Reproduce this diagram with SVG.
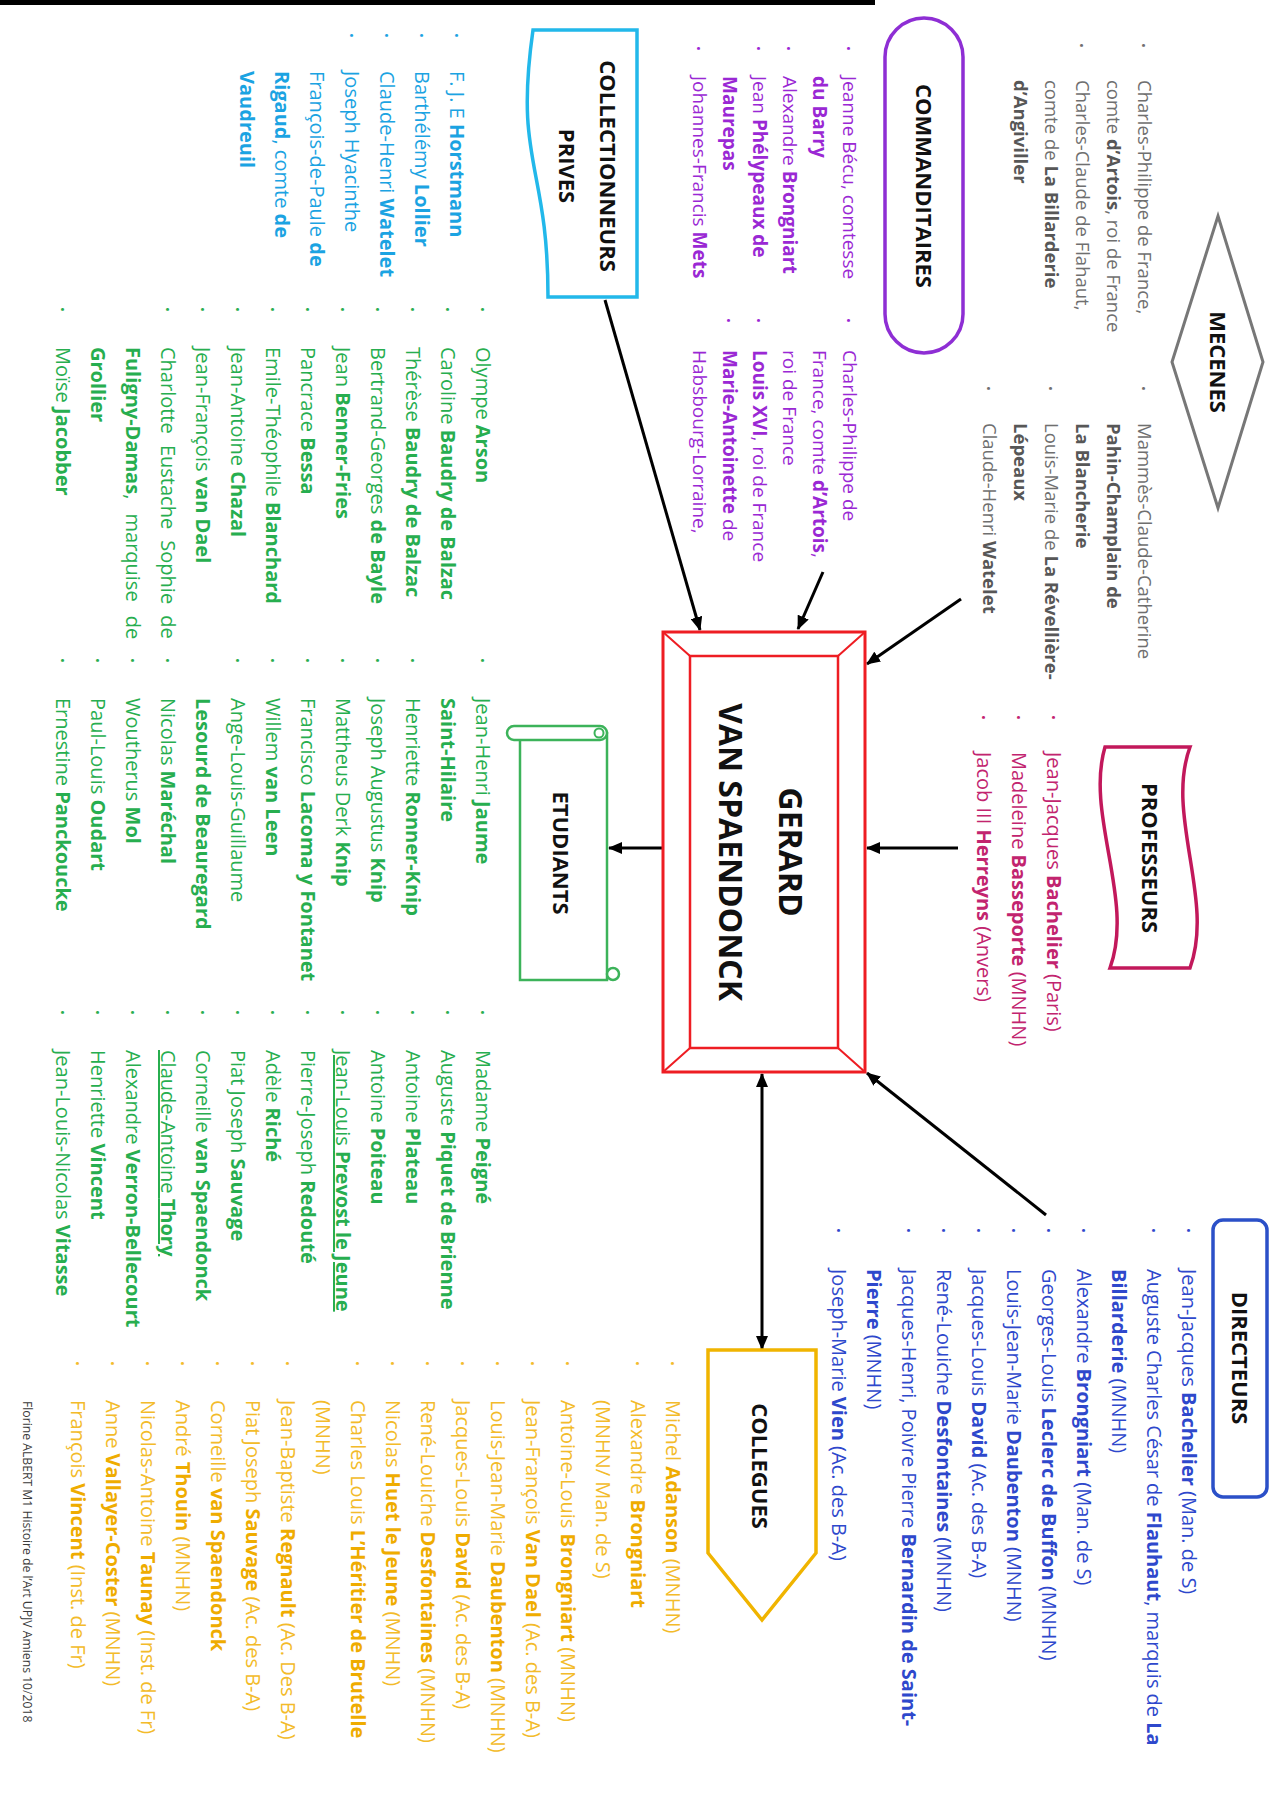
<svg xmlns="http://www.w3.org/2000/svg" width="1282" height="1798" viewBox="0 0 1282 1798">
<defs>
<marker id="ah" markerUnits="userSpaceOnUse" markerWidth="14" markerHeight="12" refX="13" refY="6" orient="auto-start-reverse">
<path d="M0,0 L14,6 L0,12 Z" fill="#000"/>
</marker>
</defs>
<style>
text { font-family: "Open Sans", "Noto Sans", "DejaVu Sans", sans-serif; }
.t { font-weight: 700; fill: #111; text-anchor: middle; font-size: 22px; }
.l { font-size: 20px; }
.b { font-weight: 700; }
.bu { font-size: 13px; }
.mec { fill: #6f6f6f; font-size: 18.5px; }
.mec .b { fill: #575757; }
.com { fill: #9a28d4; font-size: 19px; }
.col { fill: #1ba3e2; }
.pro { fill: #c2246f; }
.etu { fill: #27ae4f; }
.dir { fill: #2e48cc; }
.clg { fill: #f3bb2a; }
.clg .b { fill: #efac00; }
.u { text-decoration: underline; }
.shape { fill: #fff; }
.conn line { stroke: #000; stroke-width: 3; marker-end: url(#ah); }
</style>
<rect width="1282" height="1798" fill="#fff"/>
<rect x="0" y="0" width="875" height="5" fill="#000"/>

<g id="connectors" class="conn">
<line x1="961" y1="599" x2="867" y2="664"/>
<line x1="823" y1="572" x2="798" y2="629"/>
<line x1="605" y1="300" x2="700" y2="630"/>
<line x1="958" y1="848" x2="867" y2="848"/>
<line x1="665" y1="848" x2="609" y2="848"/>
<line x1="1046" y1="1215" x2="867" y2="1073"/>
<line x1="762" y1="1074" x2="762" y2="1349" marker-start="url(#ah)"/>
</g>

<g id="mecenes">
<polygon class="shape" points="1218,216 1263,362 1218,508 1172,362" stroke="#777" stroke-width="3"/>
<text class="t" transform="translate(1210,362) rotate(90)">MECENES</text>
<text class="mec" transform="translate(1137.5,80) rotate(90)">
<tspan class="bu" x="-37" y="-1.5">•</tspan><tspan x="0" y="0">Charles-Philippe de France,</tspan>
<tspan x="0" y="31">comte <tspan class="b">d’Artois</tspan>, roi de France</tspan>
<tspan class="bu" x="-37" y="60.5">•</tspan><tspan x="0" y="62">Charles-Claude de Flahaut,</tspan>
<tspan x="0" y="93">comte de <tspan class="b">La Billarderie</tspan></tspan>
<tspan x="0" y="124" class="b">d’Angiviller</tspan>
</text>
<text class="mec" transform="translate(1137.5,423) rotate(90)">
<tspan class="bu" x="-37" y="-1.5">•</tspan><tspan x="0" y="0">Mammès-Claude-Catherine</tspan>
<tspan x="0" y="31" class="b">Pahin-Champlain de</tspan>
<tspan x="0" y="62" class="b">La Blancherie</tspan>
<tspan class="bu" x="-37" y="91.5">•</tspan><tspan x="0" y="93">Louis-Marie de <tspan class="b">La Révellière-</tspan></tspan>
<tspan x="0" y="124" class="b">Lépeaux</tspan>
<tspan class="bu" x="-37" y="153.5">•</tspan><tspan x="0" y="155">Claude-Henri <tspan class="b">Watelet</tspan></tspan>
</text>
</g>

<g id="commanditaires">
<rect class="shape" x="885" y="18" width="78" height="335" rx="39" stroke="#8e2ed4" stroke-width="3.5"/>
<text class="t" transform="translate(916,186) rotate(90)">COMMANDITAIRES</text>
<text class="com" transform="translate(842.5,76) rotate(90)">
<tspan class="bu" x="-30" y="-1.5">•</tspan><tspan x="0" y="0">Jeanne Bécu, comtesse</tspan>
<tspan x="0" y="30" class="b">du Barry</tspan>
<tspan class="bu" x="-30" y="58.5">•</tspan><tspan x="0" y="60">Alexandre <tspan class="b">Brongniart</tspan></tspan>
<tspan class="bu" x="-30" y="88.5">•</tspan><tspan x="0" y="90">Jean <tspan class="b">Phélypeaux de</tspan></tspan>
<tspan x="0" y="120" class="b">Maurepas</tspan>
<tspan class="bu" x="-30" y="148.5">•</tspan><tspan x="0" y="150">Johannes-Francis <tspan class="b">Mets</tspan></tspan>
</text>
<text class="com" transform="translate(842.5,350) rotate(90)">
<tspan class="bu" x="-32" y="-1.5">•</tspan><tspan x="0" y="0">Charles-Philippe de</tspan>
<tspan x="0" y="30">France, comte <tspan class="b">d’Artois</tspan>,</tspan>
<tspan x="0" y="60">roi de France</tspan>
<tspan class="bu" x="-32" y="88.5">•</tspan><tspan x="0" y="90"><tspan class="b">Louis XVI</tspan>, roi de France</tspan>
<tspan class="bu" x="-32" y="118.5">•</tspan><tspan x="0" y="120"><tspan class="b">Marie-Antoinette</tspan> de</tspan>
<tspan x="0" y="150">Habsbourg-Lorraine,</tspan>
</text>
</g>

<g id="collectionneurs">
<path class="shape" d="M637,30 L637,297 L548,297 C548,163.5 514,163.5 533,30 Z" stroke="#22b8ea" stroke-width="3.5"/>
<text class="t" transform="translate(600,166) rotate(90)">COLLECTIONNEURS</text>
<text class="t" transform="translate(559,166) rotate(90)">PRIVES</text>
<text class="l col" transform="translate(450,71) rotate(90)">
<tspan class="bu" x="-38" y="-2">•</tspan><tspan x="0" y="0">F. J. E <tspan class="b">Horstmann</tspan></tspan>
<tspan class="bu" x="-38" y="33">•</tspan><tspan x="0" y="35">Barthélémy <tspan class="b">Lollier</tspan></tspan>
<tspan class="bu" x="-38" y="68">•</tspan><tspan x="0" y="70">Claude-Henri <tspan class="b">Watelet</tspan></tspan>
<tspan class="bu" x="-38" y="103">•</tspan><tspan x="0" y="105">Joseph Hyacinthe</tspan>
<tspan x="0" y="140">François-de-Paule <tspan class="b">de</tspan></tspan>
<tspan x="0" y="175"><tspan class="b">Rigaud</tspan>, comte <tspan class="b">de</tspan></tspan>
<tspan x="0" y="210" class="b">Vaudreuil</tspan>
</text>
</g>

<g id="professeurs">
<path class="shape" d="M1190,747 C1165,815 1215,900 1190,968 L1110,968 C1135,900 1085,815 1105,747 Z" stroke="#c2185b" stroke-width="3.5"/>
<text class="t" transform="translate(1142,858) rotate(90)">PROFESSEURS</text>
<text class="l pro" transform="translate(1047,752) rotate(90)">
<tspan class="bu" x="-37" y="-2">•</tspan><tspan x="0" y="0">Jean-Jacques <tspan class="b">Bachelier</tspan> (Paris)</tspan>
<tspan class="bu" x="-37" y="33">•</tspan><tspan x="0" y="35">Madeleine <tspan class="b">Basseporte</tspan> (MNHN)</tspan>
<tspan class="bu" x="-37" y="68">•</tspan><tspan x="0" y="70">Jacob III <tspan class="b">Herreyns</tspan> (Anvers)</tspan>
</text>
</g>

<g id="gerard">
<rect class="shape" x="663" y="632" width="202" height="440" stroke="#ee1d23" stroke-width="3"/>
<rect class="shape" x="690" y="656" width="148" height="392" stroke="#ee1d23" stroke-width="2.5"/>
<path d="M663,632 L690,656 M865,632 L838,656 M865,1072 L838,1048 M663,1072 L690,1048" stroke="#ee1d23" stroke-width="2" fill="none"/>
<text class="t" style="font-size:32px" transform="translate(778.5,852) rotate(90)">GERARD</text>
<text class="t" style="font-size:32px" transform="translate(718.5,852) rotate(90)">VAN SPAENDONCK</text>
</g>

<g id="etudiants">
<rect class="shape" x="520" y="733" width="87" height="247" stroke="#3cb35a" stroke-width="2.5"/>
<rect class="shape" x="507" y="726" width="100" height="14" rx="7" stroke="#3cb35a" stroke-width="2.5"/>
<circle cx="599" cy="733" r="4.5" fill="none" stroke="#3cb35a" stroke-width="2"/>
<circle cx="613" cy="974" r="6" class="shape" stroke="#3cb35a" stroke-width="2.5"/>
<text class="t" transform="translate(553,853) rotate(90)">ETUDIANTS</text>
<text class="l etu" transform="translate(476,347) rotate(90)">
<tspan class="bu" x="-40" y="-2">•</tspan><tspan x="0" y="0">Olympe <tspan class="b">Arson</tspan></tspan>
<tspan class="bu" x="-40" y="33">•</tspan><tspan x="0" y="35">Caroline <tspan class="b">Baudry de Balzac</tspan></tspan>
<tspan class="bu" x="-40" y="68">•</tspan><tspan x="0" y="70">Thérèse <tspan class="b">Baudry de Balzac</tspan></tspan>
<tspan class="bu" x="-40" y="103">•</tspan><tspan x="0" y="105">Bertrand-Georges <tspan class="b">de Bayle</tspan></tspan>
<tspan class="bu" x="-40" y="138">•</tspan><tspan x="0" y="140">Jean <tspan class="b">Benner-Fries</tspan></tspan>
<tspan class="bu" x="-40" y="173">•</tspan><tspan x="0" y="175">Pancrace <tspan class="b">Bessa</tspan></tspan>
<tspan class="bu" x="-40" y="208">•</tspan><tspan x="0" y="210">Emile-Théophile <tspan class="b">Blanchard</tspan></tspan>
<tspan class="bu" x="-40" y="243">•</tspan><tspan x="0" y="245">Jean-Antoine <tspan class="b">Chazal</tspan></tspan>
<tspan class="bu" x="-40" y="278">•</tspan><tspan x="0" y="280">Jean-François <tspan class="b">van Dael</tspan></tspan>
<tspan class="bu" x="-40" y="313">•</tspan><tspan x="0" y="315" word-spacing="6">Charlotte Eustache Sophie de</tspan>
<tspan x="0" y="350" word-spacing="9"><tspan class="b">Fuligny-Damas</tspan>, marquise de</tspan>
<tspan x="0" y="385" class="b">Grollier</tspan>
<tspan class="bu" x="-40" y="418">•</tspan><tspan x="0" y="420">Moïse <tspan class="b">Jacobber</tspan></tspan>
</text>
<text class="l etu" transform="translate(476,698) rotate(90)">
<tspan class="bu" x="-40" y="-2">•</tspan><tspan x="0" y="0">Jean-Henri <tspan class="b">Jaume</tspan></tspan>
<tspan x="0" y="35" class="b">Saint-Hilaire</tspan>
<tspan class="bu" x="-40" y="68">•</tspan><tspan x="0" y="70">Henriette <tspan class="b">Ronner-Knip</tspan></tspan>
<tspan class="bu" x="-40" y="103">•</tspan><tspan x="0" y="105">Joseph Augustus <tspan class="b">Knip</tspan></tspan>
<tspan class="bu" x="-40" y="138">•</tspan><tspan x="0" y="140">Mattheus Derk <tspan class="b">Knip</tspan></tspan>
<tspan class="bu" x="-40" y="173">•</tspan><tspan x="0" y="175">Francisco <tspan class="b">Lacoma y Fontanet</tspan></tspan>
<tspan class="bu" x="-40" y="208">•</tspan><tspan x="0" y="210">Willem <tspan class="b">van Leen</tspan></tspan>
<tspan class="bu" x="-40" y="243">•</tspan><tspan x="0" y="245">Ange-Louis-Guillaume</tspan>
<tspan x="0" y="280" class="b">Lesourd de Beauregard</tspan>
<tspan class="bu" x="-40" y="313">•</tspan><tspan x="0" y="315">Nicolas <tspan class="b">Maréchal</tspan></tspan>
<tspan class="bu" x="-40" y="348">•</tspan><tspan x="0" y="350">Woutherus <tspan class="b">Mol</tspan></tspan>
<tspan class="bu" x="-40" y="383">•</tspan><tspan x="0" y="385">Paul-Louis <tspan class="b">Oudart</tspan></tspan>
<tspan class="bu" x="-40" y="418">•</tspan><tspan x="0" y="420">Ernestine <tspan class="b">Panckoucke</tspan></tspan>
</text>
<text class="l etu" transform="translate(476,1050) rotate(90)">
<tspan class="bu" x="-40" y="-2">•</tspan><tspan x="0" y="0">Madame <tspan class="b">Peigné</tspan></tspan>
<tspan class="bu" x="-40" y="33">•</tspan><tspan x="0" y="35">Auguste <tspan class="b">Piquet de Brienne</tspan></tspan>
<tspan class="bu" x="-40" y="68">•</tspan><tspan x="0" y="70">Antoine <tspan class="b">Plateau</tspan></tspan>
<tspan class="bu" x="-40" y="103">•</tspan><tspan x="0" y="105">Antoine <tspan class="b">Poiteau</tspan></tspan>
<tspan class="bu" x="-40" y="138">•</tspan><tspan x="0" y="140" class="u">Jean-Louis <tspan class="b">Prevost le Jeune</tspan></tspan>
<tspan class="bu" x="-40" y="173">•</tspan><tspan x="0" y="175">Pierre-Joseph <tspan class="b">Redouté</tspan></tspan>
<tspan class="bu" x="-40" y="208">•</tspan><tspan x="0" y="210">Adèle <tspan class="b">Riché</tspan></tspan>
<tspan class="bu" x="-40" y="243">•</tspan><tspan x="0" y="245">Piat Joseph <tspan class="b">Sauvage</tspan></tspan>
<tspan class="bu" x="-40" y="278">•</tspan><tspan x="0" y="280">Corneille <tspan class="b">van Spaendonck</tspan></tspan>
<tspan class="bu" x="-40" y="313">•</tspan><tspan x="0" y="315" class="u">Claude-Antoine <tspan class="b">Thory</tspan></tspan>
<tspan class="bu" x="-40" y="348">•</tspan><tspan x="0" y="350">Alexandre <tspan class="b">Verron-Bellecourt</tspan></tspan>
<tspan class="bu" x="-40" y="383">•</tspan><tspan x="0" y="385">Henriette <tspan class="b">Vincent</tspan></tspan>
<tspan class="bu" x="-40" y="418">•</tspan><tspan x="0" y="420">Jean-Louis-Nicolas <tspan class="b">Vitasse</tspan></tspan>
</text>
</g>

<g id="directeurs">
<rect class="shape" x="1213" y="1220" width="54" height="277" rx="10" stroke="#2b50c8" stroke-width="3.5"/>
<text class="t" transform="translate(1232,1358) rotate(90)">DIRECTEURS</text>
<text class="l dir" transform="translate(1182,1269) rotate(90)">
<tspan class="bu" x="-41" y="-2">•</tspan><tspan x="0" y="0">Jean-Jacques <tspan class="b">Bachelier</tspan> (Man. de S)</tspan>
<tspan class="bu" x="-41" y="33">•</tspan><tspan x="0" y="35">Auguste Charles César de <tspan class="b">Flauhaut</tspan>, marquis de <tspan class="b">La</tspan></tspan>
<tspan x="0" y="70"><tspan class="b">Billarderie</tspan> (MNHN)</tspan>
<tspan class="bu" x="-41" y="103">•</tspan><tspan x="0" y="105">Alexandre <tspan class="b">Brongniart</tspan> (Man. de S)</tspan>
<tspan class="bu" x="-41" y="138">•</tspan><tspan x="0" y="140">Georges-Louis <tspan class="b">Leclerc de Buffon</tspan> (MNHN)</tspan>
<tspan class="bu" x="-41" y="173">•</tspan><tspan x="0" y="175">Louis-Jean-Marie <tspan class="b">Daubenton</tspan> (MNHN)</tspan>
<tspan class="bu" x="-41" y="208">•</tspan><tspan x="0" y="210">Jacques-Louis <tspan class="b">David</tspan> (Ac. des B-A)</tspan>
<tspan class="bu" x="-41" y="243">•</tspan><tspan x="0" y="245">René-Louiche <tspan class="b">Desfontaines</tspan> (MNHN)</tspan>
<tspan class="bu" x="-41" y="278">•</tspan><tspan x="0" y="280">Jacques-Henri, Poivre Pierre <tspan class="b">Bernardin de Saint-</tspan></tspan>
<tspan x="0" y="315"><tspan class="b">Pierre</tspan> (MNHN)</tspan>
<tspan class="bu" x="-41" y="348">•</tspan><tspan x="0" y="350">Joseph-Marie <tspan class="b">Vien</tspan> (Ac. des B-A)</tspan>
</text>
</g>

<g id="collegues">
<polygon class="shape" points="708,1350 816,1350 816,1553 762,1620 708,1553" stroke="#f0b400" stroke-width="3.5"/>
<text class="t" transform="translate(752,1466) rotate(90)">COLLEGUES</text>
<text class="l clg" transform="translate(666,1400) rotate(90)">
<tspan class="bu" x="-39" y="-2">•</tspan><tspan x="0" y="0">Michel <tspan class="b">Adanson</tspan> (MNHN)</tspan>
<tspan class="bu" x="-39" y="33">•</tspan><tspan x="0" y="35">Alexandre <tspan class="b">Brongniart</tspan></tspan>
<tspan x="0" y="70">(MNHN/ Man. de S)</tspan>
<tspan class="bu" x="-39" y="103">•</tspan><tspan x="0" y="105">Antoine-Louis <tspan class="b">Brongniart</tspan> (MNHN)</tspan>
<tspan class="bu" x="-39" y="138">•</tspan><tspan x="0" y="140">Jean-François <tspan class="b">Van Dael</tspan> (Ac. des B-A)</tspan>
<tspan class="bu" x="-39" y="173">•</tspan><tspan x="0" y="175">Louis-Jean-Marie <tspan class="b">Daubenton</tspan> (MNHN)</tspan>
<tspan class="bu" x="-39" y="208">•</tspan><tspan x="0" y="210">Jacques-Louis <tspan class="b">David</tspan> (Ac. des B-A)</tspan>
<tspan class="bu" x="-39" y="243">•</tspan><tspan x="0" y="245">René-Louiche <tspan class="b">Desfontaines</tspan> (MNHN)</tspan>
<tspan class="bu" x="-39" y="278">•</tspan><tspan x="0" y="280">Nicolas <tspan class="b">Huet le Jeune</tspan> (MNHN)</tspan>
<tspan class="bu" x="-39" y="313">•</tspan><tspan x="0" y="315">Charles Louis <tspan class="b">L’Héritier de Brutelle</tspan></tspan>
<tspan x="0" y="350">(MNHN)</tspan>
<tspan class="bu" x="-39" y="383">•</tspan><tspan x="0" y="385">Jean-Baptiste <tspan class="b">Regnault</tspan> (Ac. Des B-A)</tspan>
<tspan class="bu" x="-39" y="418">•</tspan><tspan x="0" y="420">Piat Joseph <tspan class="b">Sauvage</tspan> (Ac. des B-A)</tspan>
<tspan class="bu" x="-39" y="453">•</tspan><tspan x="0" y="455">Corneille <tspan class="b">van Spaendonck</tspan></tspan>
<tspan class="bu" x="-39" y="488">•</tspan><tspan x="0" y="490">André <tspan class="b">Thouin</tspan> (MNHN)</tspan>
<tspan class="bu" x="-39" y="523">•</tspan><tspan x="0" y="525">Nicolas-Antoine <tspan class="b">Taunay</tspan> (Inst. de Fr)</tspan>
<tspan class="bu" x="-39" y="558">•</tspan><tspan x="0" y="560">Anne <tspan class="b">Vallayer-Coster</tspan> (MNHN)</tspan>
<tspan class="bu" x="-39" y="593">•</tspan><tspan x="0" y="595">François <tspan class="b">Vincent</tspan> (Inst. de Fr)</tspan>
</text>
</g>

<text transform="translate(23,1401) rotate(90)" style="font-size:12.2px" fill="#3a3a3a">Florine ALBERT M1 Histoire de l’Art UPJV Amiens 10/2018</text>
</svg>
